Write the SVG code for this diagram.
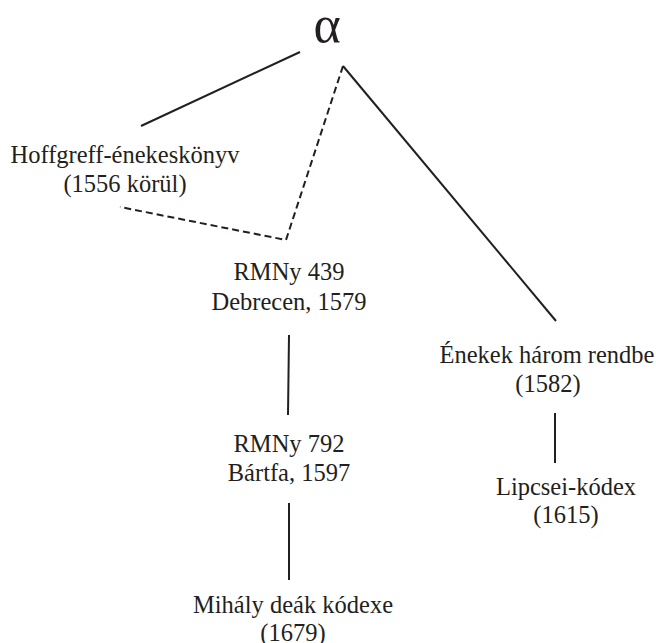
<svg xmlns="http://www.w3.org/2000/svg" width="656" height="643" viewBox="0 0 656 643">
  <style>
    .lbl { font-family: "Liberation Serif", "Times New Roman", serif; font-size: 24.5px; fill: #231f20; text-anchor: middle; }
    .root { font-family: "Liberation Serif", "Times New Roman", serif; font-size: 52px; fill: #231f20; text-anchor: middle; }
    .edge { stroke: #231f20; stroke-width: 2; fill: none; }
    .dashed { stroke-dasharray: 7 4; }
  </style>
  <rect width="656" height="643" fill="#ffffff"/>

  <g id="connectors">
    <line class="edge" x1="300" y1="52" x2="141" y2="126"/>
    <polyline class="edge dashed" points="343,66 286,240 120,207"/>
    <line class="edge" x1="343" y1="66" x2="556" y2="321"/>
    <line class="edge" x1="289" y1="335" x2="288" y2="415"/>
    <line class="edge" x1="289" y1="503" x2="289" y2="580"/>
    <line class="edge" x1="555" y1="413" x2="555" y2="463"/>
  </g>

  <g id="alpha">
    <text class="root" x="327" y="42">α</text>
  </g>
  <g id="hoffgreff">
    <text class="lbl" x="125" y="163">Hoffgreff-énekeskönyv</text>
    <text class="lbl" x="125" y="192">(1556 körül)</text>
  </g>
  <g id="rmny439">
    <text class="lbl" x="289" y="280">RMNy 439</text>
    <text class="lbl" x="289" y="310">Debrecen, 1579</text>
  </g>
  <g id="rmny792">
    <text class="lbl" x="289" y="452">RMNy 792</text>
    <text class="lbl" x="289" y="481">Bártfa, 1597</text>
  </g>
  <g id="mihaly">
    <text class="lbl" x="293" y="613">Mihály deák kódexe</text>
    <text class="lbl" x="293" y="641">(1679)</text>
  </g>
  <g id="enekek">
    <text class="lbl" x="547" y="363">Énekek három rendbe</text>
    <text class="lbl" x="548" y="392">(1582)</text>
  </g>
  <g id="lipcsei">
    <text class="lbl" x="566" y="495">Lipcsei-kódex</text>
    <text class="lbl" x="566" y="523">(1615)</text>
  </g>
</svg>
